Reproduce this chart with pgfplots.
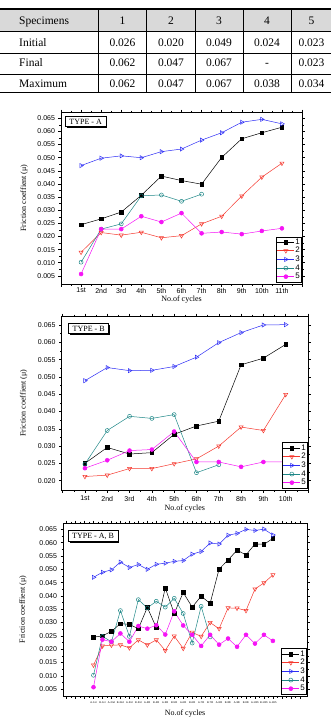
\documentclass[border=0pt]{standalone}
\usepackage{fontspec}
\setmainfont{Liberation Serif}
\setsansfont{Liberation Sans}
\usepackage{pgfplots}
\usepackage{pgfplotstable}
\pgfplotsset{compat=1.18}
\usetikzlibrary{shadows}

\definecolor{s2}{RGB}{245,55,45}
\definecolor{s3}{RGB}{45,45,245}
\definecolor{s4}{RGB}{30,135,135}
\definecolor{s5}{RGB}{245,20,245}

\pgfplotstableread{
x s1 s2 s3 s4 s5
1 0.0245 0.0140 0.0470 0.0102 0.0057
2 0.0267 0.0215 0.0498 0.0228 0.0228
3 0.0293 0.0205 0.0507 0.0248 0.0228
4 0.0357 0.0216 0.0500 0.0355 0.0277
5 0.0430 0.0195 0.0523 0.0358 0.0255
6 0.0413 0.0203 0.0533 0.0334 0.0289
7 0.0399 0.0248 0.0567 0.0361 0.0212
8 0.0501 0.0277 0.0595 nan 0.0217
9 0.0572 0.0354 0.0635 nan 0.0209
10 0.0595 0.0426 0.0646 nan 0.0221
11 0.0616 0.0479 0.0629 nan 0.0231
}\dataA

\pgfplotstableread{
x s1 s2 s3 s4 s5
1 0.0250 0.0212 0.0489 0.0248 0.0236
2 0.0296 0.0216 0.0527 0.0345 0.0259
3 0.0277 0.0235 0.0518 0.0386 0.0287
4 0.0281 0.0235 0.0519 0.0380 0.0290
5 0.0334 0.0249 0.0530 0.0391 0.0342
6 0.0358 0.0263 0.0557 0.0223 0.0254
7 0.0372 0.0300 0.0599 0.0246 0.0254
8 0.0535 0.0355 0.0628 nan 0.0240
9 0.0554 0.0345 0.0650 nan 0.0254
10 0.0594 0.0449 0.0651 nan 0.0254
}\dataB

\pgfplotstableread{
x s1 s2 s3 s4 s5
1 0.0245 0.0140 0.0470 0.0102 0.0057
2 0.0250 0.0212 0.0489 0.0248 0.0236
3 0.0267 0.0215 0.0498 0.0228 0.0228
4 0.0296 0.0216 0.0527 0.0345 0.0259
5 0.0293 0.0205 0.0507 0.0248 0.0228
6 0.0277 0.0235 0.0518 0.0386 0.0287
7 0.0357 0.0216 0.0500 0.0355 0.0277
8 0.0281 0.0235 0.0519 0.0380 0.0290
9 0.0430 0.0195 0.0523 0.0358 0.0255
10 0.0334 0.0249 0.0530 0.0391 0.0342
11 0.0413 0.0203 0.0533 0.0334 0.0289
12 0.0358 0.0263 0.0557 0.0223 0.0254
13 0.0399 0.0248 0.0567 0.0361 0.0212
14 0.0372 0.0300 0.0599 0.0246 0.0254
15 0.0501 0.0277 0.0595 nan 0.0217
16 0.0535 0.0355 0.0628 nan 0.0240
17 0.0572 0.0354 0.0635 nan 0.0209
18 0.0554 0.0345 0.0650 nan 0.0254
19 0.0595 0.0426 0.0646 nan 0.0221
20 0.0594 0.0449 0.0651 nan 0.0254
21 0.0616 0.0479 0.0629 nan 0.0231
}\dataC

\tikzset{
  typebox/.style={draw=black, line width=0.6pt, fill=white, anchor=north west,
    font=\fontsize{8}{9}\selectfont, inner xsep=4pt, inner ysep=2.5pt,
    drop shadow={shadow xshift=1.4pt, shadow yshift=-1.4pt, fill=black, opacity=1}},
}

\pgfplotsset{
  myaxis/.style={
    scale only axis,
    axis line style={line width=0.6pt},
    every tick/.style={line width=0.5pt, black},
    tick align=outside,
    major tick length=2.5pt,
    minor tick length=1.5pt,
    minor x tick num=1,
    minor y tick num=1,
    /pgf/number format/assume math mode=true,
    ticklabel style={font=\sffamily\fontsize{7}{8}\selectfont},
    yticklabel style={/pgf/number format/.cd, fixed, fixed zerofill, precision=3},
    scaled y ticks=false,
    xlabel={No.of cycles},
    ylabel={Friction coeffient (μ)},
    label style={font=\fontsize{8}{9}\selectfont, inner sep=0pt},
    legend style={at={(rel axis cs:1,0.01)}, anchor=south east,
      font=\sffamily\fontsize{8}{9}\selectfont, draw=black, line width=0.6pt,
      nodes={inner sep=0.8pt}, row sep=0pt, inner sep=1pt},
    legend cell align=left,
    every axis plot/.append style={line width=0.5pt},
  },
  p1/.style={black, mark=square*, mark size=1.8pt},
  p2/.style={s2, mark=triangle, mark options={rotate=180, fill=white}, mark size=2.4pt},
  p3/.style={s3, mark=triangle, mark options={rotate=-90, fill=white}, mark size=2.4pt},
  p4/.style={s4, mark=o, mark size=2pt},
  p5/.style={s5, mark=*, mark size=2pt},
}

\begin{document}
\begin{tikzpicture}[x=1pt,y=1pt]
\path[use as bounding box] (0,0) rectangle (331,-725);

% ---------------- table ----------------
\fill[gray!30] (0,-9) rectangle (331,-31.7);
\draw[line width=1.1pt] (0,-9) -- (331,-9);
\draw[line width=0.5pt] (0,-31.7) -- (331,-31.7);
\draw[line width=0.5pt] (0,-53.3) -- (331,-53.3);
\draw[line width=0.5pt] (0,-74) -- (331,-74);
\draw[line width=1.1pt] (0,-92.7) -- (331,-92.7);
\foreach \xx in {98.3,146.7,195,243.3,291} {\draw[line width=0.5pt] (\xx,-9) -- (\xx,-92.7);}
\begin{scope}[every node/.style={font=\fontsize{11.5}{13}\selectfont, inner sep=0pt}]
\node[anchor=base west] at (19,-25) {Specimens};
\node[anchor=base west] at (19,-46.6) {Initial};
\node[anchor=base west] at (19,-66.7) {Final};
\node[anchor=base west] at (19,-88) {Maximum};
\foreach \cx/\a/\b/\c/\d in {122.5/1/0.026/0.062/0.062, 171/2/0.020/0.047/0.047, 219/3/0.049/0.067/0.067, 267/4/0.024/-/0.038, 311.5/5/0.023/0.023/0.034} {
  \node[anchor=base] at (\cx,-25) {\a};
  \node[anchor=base] at (\cx,-46.6) {\b};
  \node[anchor=base] at (\cx,-66.7) {\c};
  \node[anchor=base] at (\cx,-88) {\d};
}
\end{scope}

% ---------------- TYPE - A ----------------
\begin{axis}[myaxis, at={(61pt,-284pt)}, anchor=south west,
  width=241pt, height=172pt,
  xmin=0, xmax=12, ymin=0.0019, ymax=0.0674,
  xtick={0,...,12},
  xticklabels={{},1st,2nd,3rd,4th,5th,6th,7th,8th,9th,10th,11th,{}},
  xticklabel style={yshift=2pt},
  ytick={0.005,0.010,0.015,0.020,0.025,0.030,0.035,0.040,0.045,0.050,0.055,0.060,0.065},
  ylabel style={at={(axis description cs:-0.153,0.5)}, anchor=center},
  xlabel style={at={(axis description cs:0.5,-0.09)}, anchor=center},
]
\addplot[p1] table[x=x,y=s1]{\dataA}; \addlegendentry{1}
\addplot[p2] table[x=x,y=s2]{\dataA}; \addlegendentry{2}
\addplot[p3] table[x=x,y=s3]{\dataA}; \addlegendentry{3}
\addplot[p4] table[x=x,y=s4]{\dataA}; \addlegendentry{4}
\addplot[p5] table[x=x,y=s5]{\dataA}; \addlegendentry{5}
\node[typebox] at (rel axis cs:0.017,0.977) {TYPE - A};
\end{axis}

% ---------------- TYPE - B ----------------
\begin{axis}[myaxis, at={(61.5pt,-490pt)}, anchor=south west,
  width=246.5pt, height=174pt,
  xmin=-0.05, xmax=11, ymin=0.0173, ymax=0.0676,
  xtick={0,...,11},
  xticklabels={{},1st,2nd,3rd,4th,5th,6th,7th,8th,9th,10th,{}},
  ytick={0.020,0.025,0.030,0.035,0.040,0.045,0.050,0.055,0.060,0.065},
  ylabel style={at={(axis description cs:-0.153,0.5)}, anchor=center},
  xlabel style={at={(axis description cs:0.5,-0.105)}, anchor=center},
]
\addplot[p1] table[x=x,y=s1]{\dataB}; \addlegendentry{1}
\addplot[p2] table[x=x,y=s2]{\dataB}; \addlegendentry{2}
\addplot[p3] table[x=x,y=s3]{\dataB}; \addlegendentry{3}
\addplot[p4] table[x=x,y=s4]{\dataB}; \addlegendentry{4}
\addplot[p5] table[x=x,y=s5]{\dataB}; \addlegendentry{5}
\node[typebox] at (rel axis cs:0.028,0.96) {TYPE - B};
\end{axis}

% ---------------- TYPE - A, B ----------------
\begin{axis}[myaxis, at={(63pt,-696pt)}, anchor=south west,
  width=244pt, height=173pt,
  xmin=-2.4, xmax=24.8, ymin=0.0024, ymax=0.0674,
  xtick={-2,...,24},
  xticklabels={{},{},{},A-1st,B-1st,A-2nd,B-2nd,A-3rd,B-3rd,A-4th,B-4th,A-5th,B-5th,A-6th,B-6th,A-7th,B-7th,A-8th,B-8th,A-9th,B-9th,A-10th,B-10th,A-11th,{},{},{}},
  xticklabel style={font=\sffamily\fontsize{2.6}{3}\selectfont},
  ytick={0.005,0.010,0.015,0.020,0.025,0.030,0.035,0.040,0.045,0.050,0.055,0.060,0.065},
  ylabel style={at={(axis description cs:-0.164,0.5)}, anchor=center},
  xlabel style={at={(axis description cs:0.5,-0.104)}, anchor=center},
]
\addplot[p1] table[x=x,y=s1]{\dataC}; \addlegendentry{1}
\addplot[p2] table[x=x,y=s2]{\dataC}; \addlegendentry{2}
\addplot[p3] table[x=x,y=s3]{\dataC}; \addlegendentry{3}
\addplot[p4] table[x=x,y=s4]{\dataC}; \addlegendentry{4}
\addplot[p5] table[x=x,y=s5]{\dataC}; \addlegendentry{5}
\node[typebox] at (rel axis cs:0.02,0.96) {TYPE - A, B};
\end{axis}
\end{tikzpicture}
\end{document}
